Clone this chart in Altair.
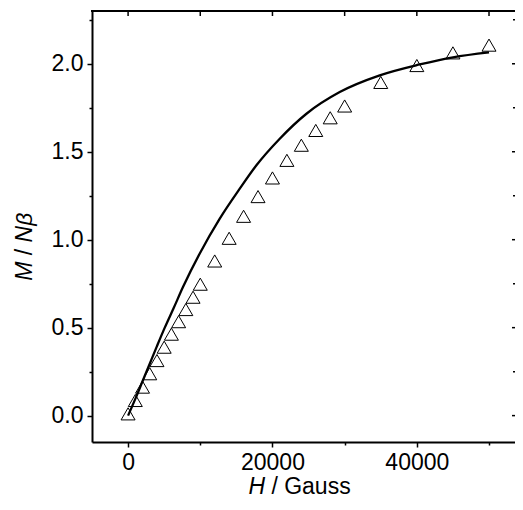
import altair as alt
import pandas as pd

# Measured data (triangles)
H_data = [0, 1000, 2000, 3000, 4000, 5000, 6000, 7000, 8000, 9000, 10000,
          12000, 14000, 16000, 18000, 20000, 22000, 24000, 26000, 28000, 30000,
          35000, 40000, 45000, 50000]
M_data = [0.01, 0.086, 0.162, 0.238, 0.313, 0.389, 0.463, 0.534, 0.603, 0.673, 0.747,
          0.879, 1.008, 1.133, 1.245, 1.351, 1.451, 1.537, 1.621, 1.693, 1.760,
          1.894, 1.990, 2.062, 2.106]

# Calculated curve (solid line)
H_fit = [0, 1000, 2000, 3000, 4000, 5080, 6300, 7620, 9930, 12700, 15470,
         17780, 21010, 24710, 29320, 34860, 40400, 45010, 50000]
M_fit = [0.0, 0.095, 0.195, 0.295, 0.395, 0.50, 0.61, 0.732, 0.922, 1.12, 1.29,
         1.423, 1.574, 1.716, 1.839, 1.934, 1.996, 2.037, 2.065]

x_ticks = [0, 10000, 20000, 30000, 40000, 50000]
y_major = [0.0, 0.5, 1.0, 1.5, 2.0]
y_minor = [0.25, 0.75, 1.25, 1.75, 2.25]
y_ticks = sorted(y_major + y_minor)

FONT = "Liberation Sans"
FS = 23
W, Hh = 423, 431

xs = alt.Scale(domain=[-5000, 53600], nice=False, zero=False)
ys = alt.Scale(domain=[-0.15, 2.3], nice=False, zero=False)

df_data = pd.DataFrame({"H": H_data, "M": M_data})
df_fit = pd.DataFrame({"H": H_fit, "M": M_fit})

x_axis = alt.Axis(values=x_ticks, format="d",
                  labelExpr="datum.value % 20000 === 0 ? datum.label : ''",
                  tickSize={"condition": {"test": "datum.value % 20000 === 0", "value": 5}, "value": 3},
                  labelPadding=4, title=None, domain=True, domainWidth=2, domainColor="black")
y_axis = alt.Axis(values=y_ticks, format=".1f",
                  labelExpr="(datum.value * 4) % 2 === 0 ? datum.label : ''",
                  tickSize={"condition": {"test": "(datum.value * 4) % 2 === 0", "value": 5}, "value": 3},
                  labelPadding=4, title=None, domain=True, domainWidth=2, domainColor="black")

points = alt.Chart(df_data).mark_point(
    shape="triangle-up", filled=False, size=196, color="black", strokeWidth=1, opacity=1
).encode(
    x=alt.X("H:Q", scale=xs, axis=x_axis),
    y=alt.Y("M:Q", scale=ys, axis=y_axis),
)

line = alt.Chart(df_fit).mark_line(color="black", strokeWidth=2.3, interpolate="monotone").encode(
    x=alt.X("H:Q", scale=xs),
    y=alt.Y("M:Q", scale=ys),
)

top_border = alt.Chart(pd.DataFrame({"H": [0]})).mark_rule(color="black", strokeWidth=2).encode(
    x=alt.value(-1), x2=alt.value(W), y=alt.value(0)
)
top_ticks = alt.Chart(pd.DataFrame({"H": x_ticks})).mark_rule(color="black", strokeWidth=1.5).encode(
    x=alt.X("H:Q", scale=xs), y=alt.value(0), y2=alt.value(5)
)
right_major = alt.Chart(pd.DataFrame({"M": y_major})).mark_rule(color="black", strokeWidth=1.5).encode(
    y=alt.Y("M:Q", scale=ys), x=alt.value(W), x2=alt.value(W - 3)
)
right_minor = alt.Chart(pd.DataFrame({"M": y_minor})).mark_rule(color="black", strokeWidth=1.5).encode(
    y=alt.Y("M:Q", scale=ys), x=alt.value(W), x2=alt.value(W - 2)
)

# Axis titles with mixed italic / upright parts
def txt(s, x, y, align, angle=0, italic=False):
    return alt.Chart(pd.DataFrame({"t": [s]})).mark_text(
        font=FONT, fontSize=FS, fontStyle="italic" if italic else "normal",
        align=align, baseline="alphabetic", angle=angle, color="black"
    ).encode(text="t:N", x=alt.value(x), y=alt.value(y))

xt_x = 265 - 92
xt_y = 494 - 11
ty_x = 31.7 - 92
ty_c = 252 - 11
titles = [
    txt("H", xt_x, xt_y, "right", italic=True),
    txt("/ Gauss", xt_x + 6.4, xt_y, "left"),
    txt("M", ty_x, ty_c + 9.6, "right", angle=270, italic=True),
    txt("/", ty_x, ty_c, "center", angle=270),
    txt("N\u03b2", ty_x, ty_c - 9.6, "left", angle=270, italic=True),
]

chart = alt.layer(points, line, top_border, top_ticks, right_major, right_minor, *titles).properties(
    width=W, height=Hh,
    autosize=alt.AutoSizeParams(type="none"),
    padding={"left": 84, "top": 3, "right": 0, "bottom": 57},
    background="white",
).configure_view(
    stroke="transparent", strokeWidth=0
).configure_axis(
    grid=False, labelFont=FONT, labelFontSize=FS, labelColor="black",
    tickColor="black", tickWidth=1.5
)

chart.save("out.html", embed_options={"renderer": "svg", "actions": False})
